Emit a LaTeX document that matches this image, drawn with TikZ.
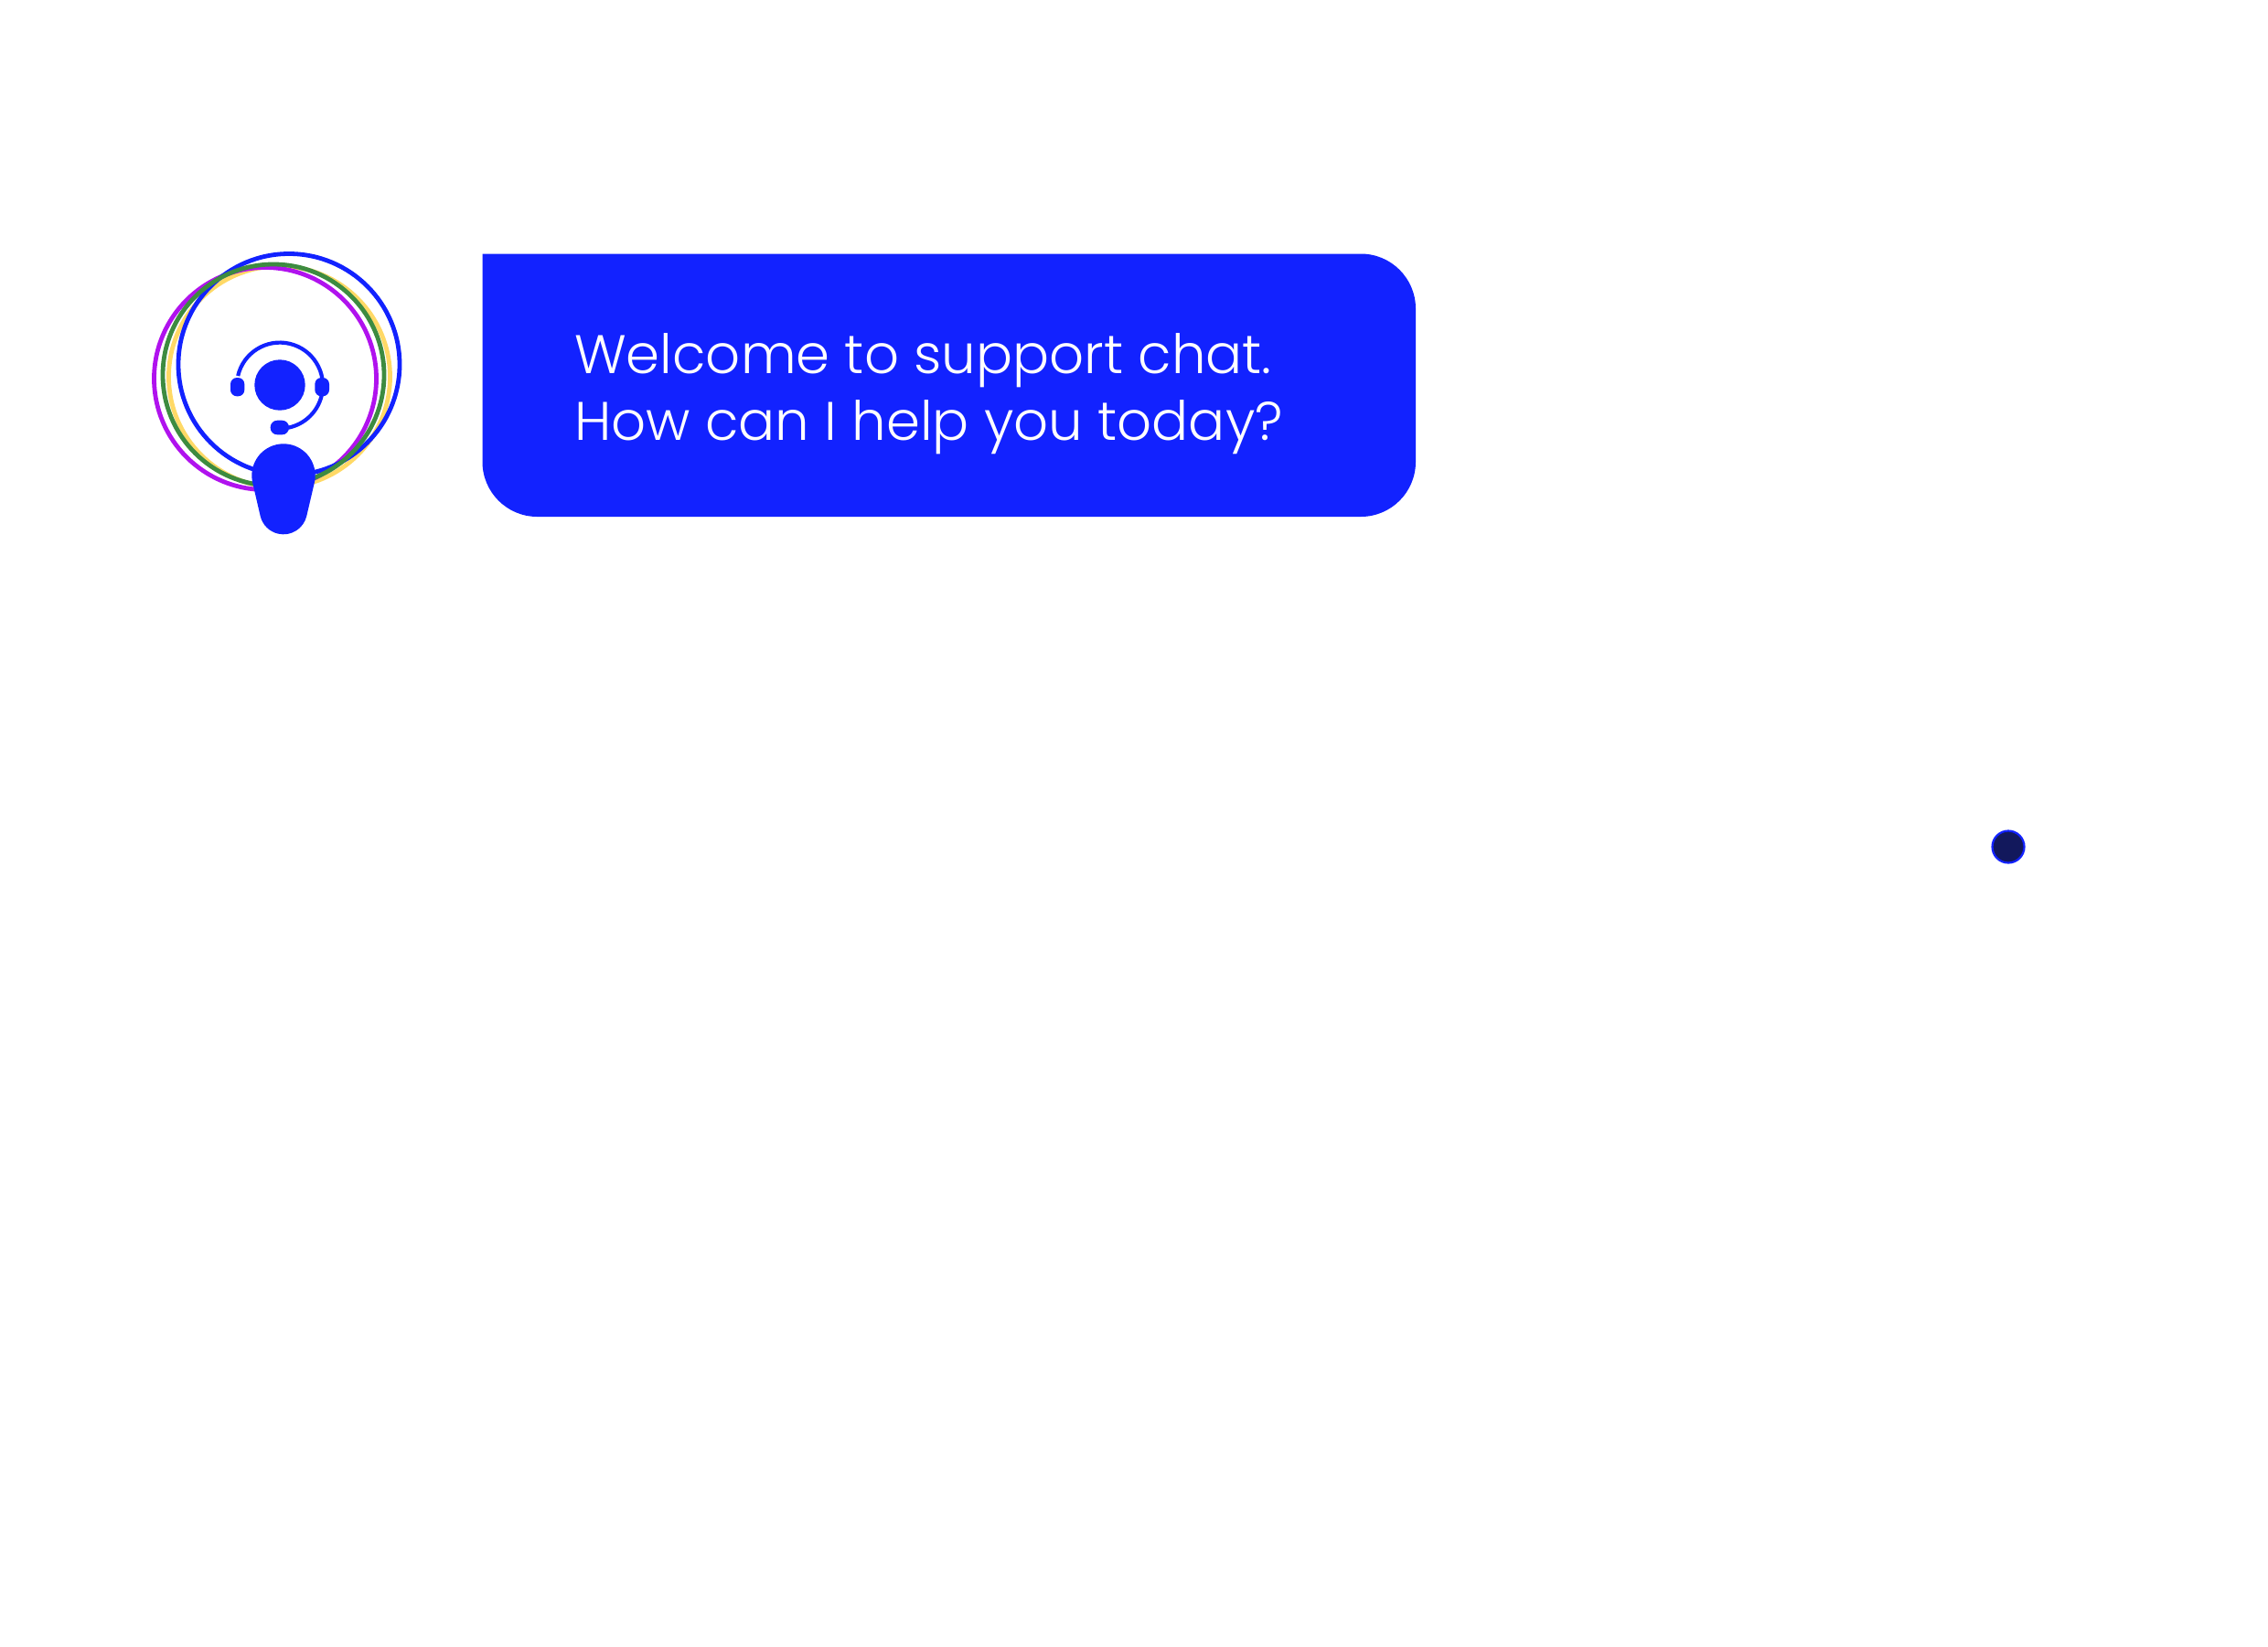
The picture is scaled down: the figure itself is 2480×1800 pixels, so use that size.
\documentclass[tikz,border=0pt]{standalone}
\usepackage{fontspec}
\newfontfamily\bubblefont{Poppins Light}
\definecolor{brandblue}{HTML}{1222FF}
\definecolor{ringpurple}{HTML}{B012EE}
\definecolor{ringgreen}{HTML}{3D8B40}
\definecolor{ringyellow}{HTML}{FFD966}
\definecolor{dotnavy}{HTML}{12185C}
\tikzset{
  ring/.style={line width=4.8pt,draw=#1},
  solidblue/.style={fill=brandblue,draw=none},
  bubbletext/.style={anchor=base west,inner sep=0pt,text=white,font=\bubblefont\fontsize{59.4}{73}\selectfont}
}
\begin{document}
\begin{tikzpicture}[x=1pt,y=-1pt]
\useasboundingbox (0,0) rectangle (2480,1800);
% rings
\draw[ring=ringyellow] (305.5,412) circle[radius=121];
\draw[ring=ringpurple] (290,414) circle[radius=121.5];
\draw[ring=brandblue] (316,398.5) circle[radius=121];
\draw[ring=ringgreen] (299,410) circle[radius=121];
% person body
\fill[solidblue] (276.2,527.8) arc[start angle=193,end angle=-13,radius=34.7pt]
  -- (335.3,564.15) arc[start angle=-13,end angle=-167,radius=26pt] -- cycle;
% head and headset
\fill[solidblue] (306,421) circle[radius=27.7];
\draw[brandblue,line width=4.2pt] (260.2,411) arc[start angle=167,end angle=-79,radius=47pt];
\fill[solidblue,rounded corners=7pt] (252,413) rectangle (267.3,433.3);
\fill[solidblue,rounded corners=7pt] (344.3,413) rectangle (360,433.3);
\fill[solidblue,rounded corners=7.5pt] (295.7,459.7) rectangle (316,475.3);
% bubble
\fill[solidblue] (527.5,277.5) -- (1488,277.5) arc[start angle=90,end angle=0,radius=60pt]
  -- (1548,505) arc[start angle=0,end angle=-90,radius=60pt]
  -- (587.5,565) arc[start angle=270,end angle=180,radius=60pt] -- cycle;
\node[bubbletext] (lineone) at (628,408) {Welcome to support chat.};
\node[bubbletext] (linetwo) at (628,481) {How can I help you today?};
% dot
\draw[fill=dotnavy,draw=brandblue,line width=2.2pt] (2196,926) circle[radius=17.5];
\end{tikzpicture}
\end{document}
